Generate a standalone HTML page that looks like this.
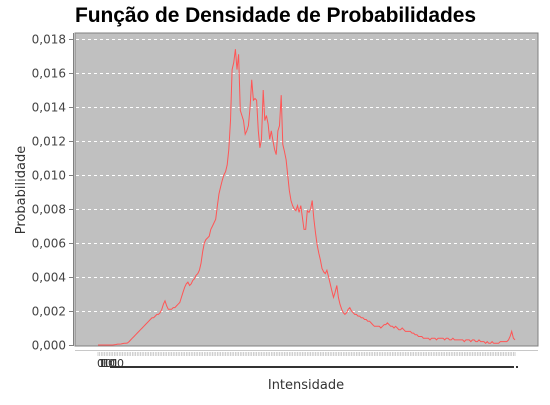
<!DOCTYPE html>
<html><head><meta charset="utf-8"><style>
body{margin:0;background:#fff;width:550px;height:400px;overflow:hidden;font-family:"Liberation Sans",sans-serif}
</style></head><body>
<svg id="chart" width="550" height="400" xmlns="http://www.w3.org/2000/svg">
<text x="75" y="22" font-family="Liberation Sans,sans-serif" font-weight="bold" font-size="21" fill="#000" textLength="401">Função de Densidade de Probabilidades</text>
<rect x="75" y="33" width="463" height="313" fill="#c0c0c0" stroke="#808080" stroke-width="1"/>
<g id="grid"></g><g id="yticks"></g><g id="xticks"></g>
<path id="series" fill="none" stroke="#ff5555" stroke-width="1"/>
<line x1="73.5" y1="33" x2="73.5" y2="346" stroke="#808080"/>
<line x1="75" y1="350.5" x2="538" y2="350.5" stroke="#c8c8c8"/>
<g font-size="11" fill="#333" font-family="DejaVu Sans,sans-serif">
<text x="97" y="367">0</text><text x="99" y="367">1</text><text x="101" y="367">10</text><text x="103" y="367">100</text><text x="98" y="367">101</text>
</g>
<line x1="110" y1="367" x2="514" y2="367" stroke="#333" stroke-width="2"/>
<rect x="516" y="366" width="2" height="2" fill="#333"/>
<text x="306" y="389" text-anchor="middle" font-family="DejaVu Sans,sans-serif" font-size="13" fill="#333">Intensidade</text>
<text transform="translate(25,190) rotate(-90)" text-anchor="middle" font-family="DejaVu Sans,sans-serif" font-size="13" fill="#333">Probabilidade</text>
</svg>
<script>
const values=[0,0,0,0,0,0,0,0,0,0,
0.00002,0.00003,0.00005,0.00005,0.00006,0.00008,0.0001,0.0001,0.00012,0.0002,
0.0003,0.0004,0.0005,0.0006,0.0007,0.0008,0.0009,0.001,0.0011,0.0012,
0.0013,0.0014,0.0015,0.0016,0.0016,0.0017,0.0018,0.0018,0.0019,0.0021,
0.0024,0.0026,0.0023,0.0021,0.0021,0.0021,0.0022,0.0022,0.0023,0.0024,
0.0025,0.0028,0.0031,0.0034,0.0036,0.0037,0.0035,0.0036,0.0038,0.0039,
0.0041,0.0042,0.0044,0.0048,0.0055,0.0060,0.0062,0.0063,0.0064,0.0068,
0.0070,0.0072,0.0074,0.0082,0.0089,0.0093,0.0097,0.0100,0.0102,0.0106,
0.0115,0.0132,0.0162,0.0166,0.0174,0.0162,0.0171,0.0138,0.0135,0.0132,
0.0124,0.0126,0.0129,0.0140,0.0156,0.0144,0.0145,0.0144,0.0126,0.0116,
0.0121,0.0150,0.0132,0.0135,0.0130,0.0121,0.0126,0.0120,0.0115,0.0112,
0.0126,0.0129,0.0147,0.0118,0.0114,0.0109,0.0100,0.0091,0.0085,0.0082,
0.0080,0.0079,0.0082,0.0078,0.0082,0.0075,0.0068,0.0068,0.0079,0.0078,
0.0080,0.0085,0.0074,0.0066,0.0059,0.0054,0.0050,0.0045,0.0043,0.0042,
0.0044,0.0040,0.0036,0.0032,0.0028,0.0031,0.0035,0.0028,0.0024,0.0021,
0.0019,0.0018,0.0019,0.0021,0.0022,0.0020,0.0019,0.0018,0.0018,0.0017,
0.0017,0.0016,0.0016,0.0015,0.0015,0.0014,0.0014,0.0013,0.0012,0.0011,
0.0011,0.0011,0.0011,0.0010,0.0011,0.0012,0.0012,0.0013,0.0012,0.0011,
0.0011,0.0010,0.0011,0.0010,0.0009,0.0009,0.0010,0.0009,0.0008,0.0008,
0.0008,0.0008,0.0007,0.0007,0.0006,0.0006,0.0005,0.0005,0.0005,0.0004,
0.0004,0.0004,0.0004,0.0003,0.0004,0.0004,0.0004,0.0003,0.0004,0.0004,
0.0004,0.0004,0.0003,0.0004,0.0004,0.0003,0.0003,0.0004,0.0003,0.0003,
0.0003,0.0003,0.0003,0.0003,0.0002,0.0003,0.0003,0.0003,0.0002,0.0003,
0.0003,0.0002,0.0002,0.0003,0.0002,0.0002,0.0002,0.0001,0.0002,0.0001,
0.0001,0.0002,0.0001,0.0001,0.0001,0.0001,0.0002,0.0002,0.0002,0.0002,
0.0002,0.0003,0.0005,0.0008,0.0004,0.0003];
const yTicks=[0,0.002,0.004,0.006,0.008,0.010,0.012,0.014,0.016,0.018];
const yTickLabels=["0,000","0,002","0,004","0,006","0,008","0,010","0,012","0,014","0,016","0,018"];
const NS="http://www.w3.org/2000/svg";
function xs(i){return 98+i*(515-98)/(values.length-1);}
function ys(v){return 345-v/0.018*306;}
const grid=document.getElementById('grid'),yt=document.getElementById('yticks'),xt=document.getElementById('xticks');
yTicks.forEach((t,k)=>{
  const y=Math.round(ys(t))+0.5;
  if(t>0){const g=document.createElementNS(NS,'line');
  
  
  g.setAttribute('x1',76);g.setAttribute('x2',537);g.setAttribute('y1',y);g.setAttribute('y2',y);
  g.setAttribute('stroke','#fff');g.setAttribute('stroke-dasharray','3,3');grid.appendChild(g);}
  const tk=document.createElementNS(NS,'line');
  
  
  tk.setAttribute('x1',69);tk.setAttribute('x2',73);tk.setAttribute('y1',y);tk.setAttribute('y2',y);tk.setAttribute('stroke','#808080');yt.appendChild(tk);
  const tx=document.createElementNS(NS,'text');
  
  
  tx.setAttribute('x',66);tx.setAttribute('y',y+4);tx.setAttribute('text-anchor','end');tx.setAttribute('font-size','12');tx.setAttribute('font-family','DejaVu Sans,sans-serif');tx.setAttribute('fill','#444');
  tx.textContent=yTickLabels[k];yt.appendChild(tx);
});
for(let i=0;i<values.length;i++){
  const tk=document.createElementNS(NS,'line');
  
  
  const x=xs(i);
  tk.setAttribute('x1',x);tk.setAttribute('x2',x);tk.setAttribute('y1',352);tk.setAttribute('y2',356);tk.setAttribute('stroke','#bbb');tk.setAttribute('stroke-width','0.7');xt.appendChild(tk);
}
document.getElementById('series').setAttribute('d',values.map((v,i)=>(i?'L':'M')+xs(i).toFixed(1)+','+ys(v).toFixed(1)).join(''));
</script>
</body></html>
